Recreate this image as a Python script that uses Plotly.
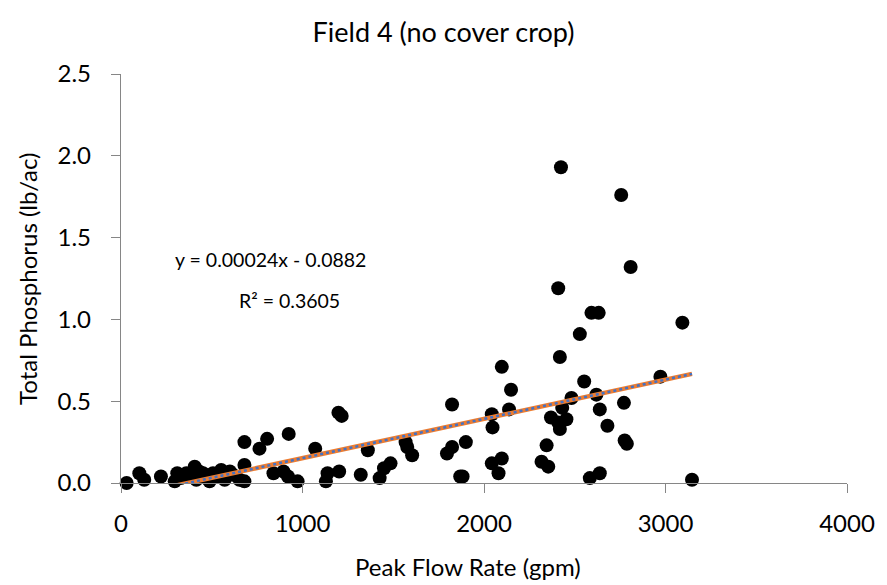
import plotly.graph_objects as go
import numpy as np

# Data
peak_flow_gpm = [
    31, 101, 128, 220, 296, 310, 330, 360, 380, 406, 415, 430, 452, 470, 488, 507,
    530, 552, 571, 600, 616, 653, 680, 680, 680, 763, 805, 840, 895, 920, 924, 973,
    1070, 1129, 1138, 1198, 1216, 1202, 1321, 1360, 1425, 1449, 1485, 1568, 1577,
    1604, 1796, 1824, 1900, 1824, 1869, 1882, 2043, 2047, 2043, 2098, 2080, 2098,
    2149, 2138, 2345, 2317, 2354, 2369, 2409, 2454, 2418, 2431, 2418, 2482, 2552,
    2619, 2638, 2680, 2583, 2638, 2771, 2775, 2787, 2424, 2756, 2808, 2409, 2592,
    2632, 2528, 3093, 2972, 3146,
]
total_p_lb_ac = [
    0.00, 0.06, 0.02, 0.04, 0.01, 0.06, 0.03, 0.06, 0.04, 0.10, 0.02, 0.07, 0.06,
    0.03, 0.01, 0.06, 0.04, 0.08, 0.02, 0.07, 0.05, 0.02, 0.11, 0.01, 0.25, 0.21,
    0.27, 0.06, 0.07, 0.04, 0.30, 0.01, 0.21, 0.01, 0.06, 0.43, 0.41, 0.07, 0.05,
    0.20, 0.03, 0.09, 0.12, 0.25, 0.22, 0.17, 0.18, 0.22, 0.25, 0.48, 0.04, 0.04,
    0.42, 0.34, 0.12, 0.15, 0.06, 0.71, 0.57, 0.45, 0.23, 0.13, 0.10, 0.40, 0.37,
    0.39, 0.33, 0.46, 0.77, 0.52, 0.62, 0.54, 0.45, 0.35, 0.03, 0.06, 0.49, 0.26,
    0.24, 1.93, 1.76, 1.32, 1.19, 1.04, 1.04, 0.91, 0.98, 0.65, 0.02,
]

# Trendline equation shown on the chart
slope = 0.00024
intercept = -0.0882
r_squared = 0.3605

x_ticks = [0, 1000, 2000, 3000, 4000]
y_ticks = [0.0, 0.5, 1.0, 1.5, 2.0, 2.5]

trend_x = np.array([min(peak_flow_gpm), max(peak_flow_gpm)], dtype=float)
trend_y = slope * trend_x + intercept

FONT = "Lato, Carlito, Calibri, sans-serif"
AXIS = "#868686"
BLACK = "#000000"

fig = go.Figure()
fig.add_trace(go.Scatter(
    x=peak_flow_gpm, y=total_p_lb_ac, mode="markers",
    marker=dict(color="black", size=14, line=dict(width=0)),
    showlegend=False, cliponaxis=False,
))
fig.add_trace(go.Scatter(
    x=trend_x, y=trend_y, mode="lines",
    line=dict(color="#ED7D31", width=4.5), showlegend=False,
))
fig.add_trace(go.Scatter(
    x=trend_x, y=trend_y, mode="lines",
    line=dict(color="#4472C4", width=2.5, dash="dot"), showlegend=False,
))

fig.update_layout(
    width=887, height=585,
    margin=dict(l=121, r=37, t=74, b=102),
    paper_bgcolor="white", plot_bgcolor="white",
    font=dict(family=FONT, color=BLACK, size=22),
    title=dict(text="Field 4 (no cover crop)", x=0.5, xref="container", xanchor="center",
               y=1 - 33 / 585, yref="container", yanchor="middle",
               font=dict(family=FONT, size=27, color=BLACK)),
    xaxis=dict(
        range=[0, 4000], tickvals=x_ticks, ticktext=[str(v) for v in x_ticks],
        showgrid=False, zeroline=False, showline=True, linecolor=AXIS, linewidth=1.3,
        ticks="outside", ticklen=9, tickcolor=AXIS, tickwidth=1.3,
        ticklabelstandoff=10,
        tickfont=dict(family=FONT, size=24, color=BLACK),
    ),
    yaxis=dict(
        range=[0, 2.5], tickvals=y_ticks, ticktext=[f"{v:.1f}" for v in y_ticks],
        showgrid=False, zeroline=False, showline=True, linecolor=AXIS, linewidth=1.3,
        ticks="outside", ticklen=9, tickcolor=AXIS, tickwidth=1.3,
        ticklabelstandoff=15,
        tickfont=dict(family=FONT, size=24, color=BLACK),
    ),
    annotations=[
        dict(x=(469 - 121) / 729, y=-(566 - 483) / 409, xref="paper", yref="paper",
             xanchor="center", yanchor="middle", showarrow=False,
             text="Peak Flow Rate (gpm)",
             font=dict(family=FONT, size=24, color=BLACK)),
        dict(x=-(121 - 27) / 729, y=0.5, xref="paper", yref="paper",
             xanchor="center", yanchor="middle", showarrow=False, textangle=-90,
             text="Total Phosphorus (lb/ac)",
             font=dict(family=FONT, size=24, color=BLACK)),
        dict(x=823, y=1.364, xref="x", yref="y", showarrow=False,
             text=f"y = {slope:.5f}x - {abs(intercept):.4f}",
             font=dict(family=FONT, size=19.5, color=BLACK)),
        dict(x=927, y=1.118, xref="x", yref="y", showarrow=False,
             text=f"R² = {r_squared:.4f}",
             font=dict(family=FONT, size=19.5, color=BLACK)),
    ],
)

fig.write_html("out.html", config={"displayModeBar": False},
               post_script="document.body.style.margin='0px';")
